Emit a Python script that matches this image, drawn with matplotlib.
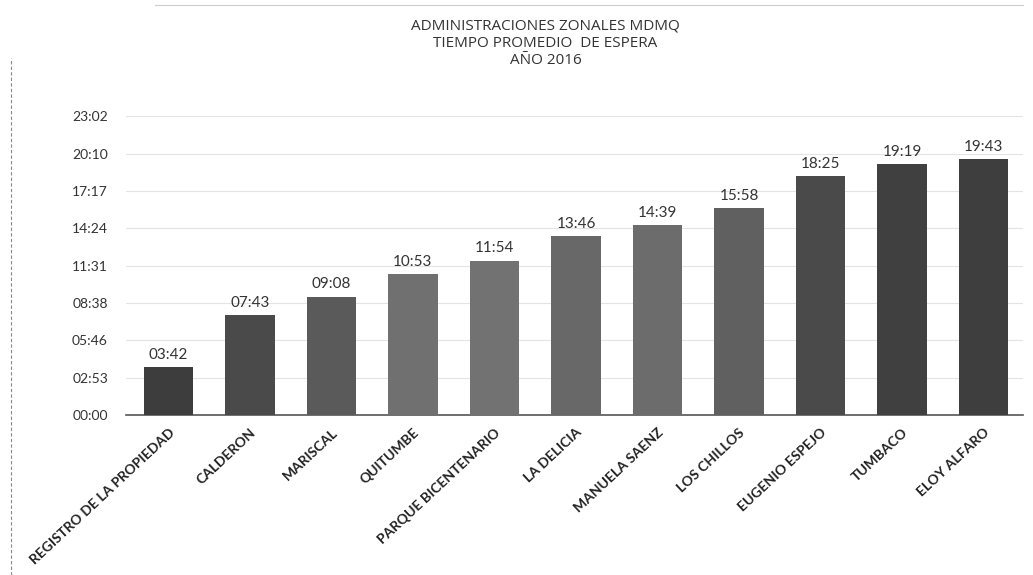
import matplotlib.pyplot as plt
from matplotlib.lines import Line2D

zonas = ["REGISTRO DE LA PROPIEDAD", "CALDERON", "MARISCAL", "QUITUMBE",
         "PARQUE BICENTENARIO", "LA DELICIA", "MANUELA SAENZ", "LOS CHILLOS",
         "EUGENIO ESPEJO", "TUMBACO", "ELOY ALFARO"]
tiempos = ["03:42", "07:43", "09:08", "10:53", "11:54", "13:46",
           "14:39", "15:58", "18:25", "19:19", "19:43"]
tick_labels = ["00:00", "02:53", "05:46", "08:38", "11:31", "14:24",
               "17:17", "20:10", "23:02"]
colores = ["#3d3d3d", "#4a4a4a", "#5a5a5a", "#707070", "#727272", "#686868",
           "#6c6c6c", "#606060", "#4a4a4a", "#404040", "#3e3e3e"]


def a_segundos(t):
    m, s = t.split(":")
    return int(m) * 60 + int(s)


segundos = [a_segundos(t) for t in tiempos]
# Excel step of 0.002 days = 172.8 s
paso = 172.8
ticks = [i * paso for i in range(len(tick_labels))]

plt.rcParams["font.family"] = ["Lato", "DejaVu Sans"]

fig = plt.figure(figsize=(10.33, 5.75), dpi=100)
ax = fig.add_axes([0.122, 0.278, 0.868, 0.520])

x = range(len(zonas))
ax.bar(x, segundos, width=0.61, color=colores, zorder=3)

for xi, s, t in zip(x, segundos, tiempos):
    ax.text(xi, s + 25, t, ha="center", va="bottom", fontsize=11,
            color="#333333")

ax.set_xlim(-0.52, 10.48)
ax.set_ylim(0, ticks[-1])
ax.set_yticks(ticks)
ax.set_yticklabels(tick_labels, fontsize=10, color="#333333")
ax.set_xticks(list(x))
ax.set_xticklabels(zonas, rotation=43, ha="right", rotation_mode="anchor",
                   fontsize=10, fontweight="bold", color="#222222")
ax.tick_params(axis="x", length=0, pad=8)
ax.tick_params(axis="y", length=0, pad=13)

ax.grid(axis="y", color="#e4e4e4", linewidth=0.8, zorder=0)
for side in ["top", "right", "left"]:
    ax.spines[side].set_visible(False)
ax.spines["bottom"].set_color("#555555")
ax.spines["bottom"].set_linewidth(1.2)

fig.text(0.528, 0.968, "ADMINISTRACIONES ZONALES MDMQ\nTIEMPO PROMEDIO  DE ESPERA\nAÑO 2016",
         ha="center", va="top", fontsize=11, color="#333333", linespacing=1.2,
         family=["Open Sans", "DejaVu Sans"])

# scanned page border lines
fig.add_artist(Line2D([0.011, 0.011], [0.0, 0.9], transform=fig.transFigure,
                      color="#888888", linewidth=0.8, linestyle=(0, (3, 2))))
fig.add_artist(Line2D([0.15, 0.99], [0.992, 0.992], transform=fig.transFigure,
                      color="#cccccc", linewidth=0.8))

fig.savefig("out.png", dpi=100)
